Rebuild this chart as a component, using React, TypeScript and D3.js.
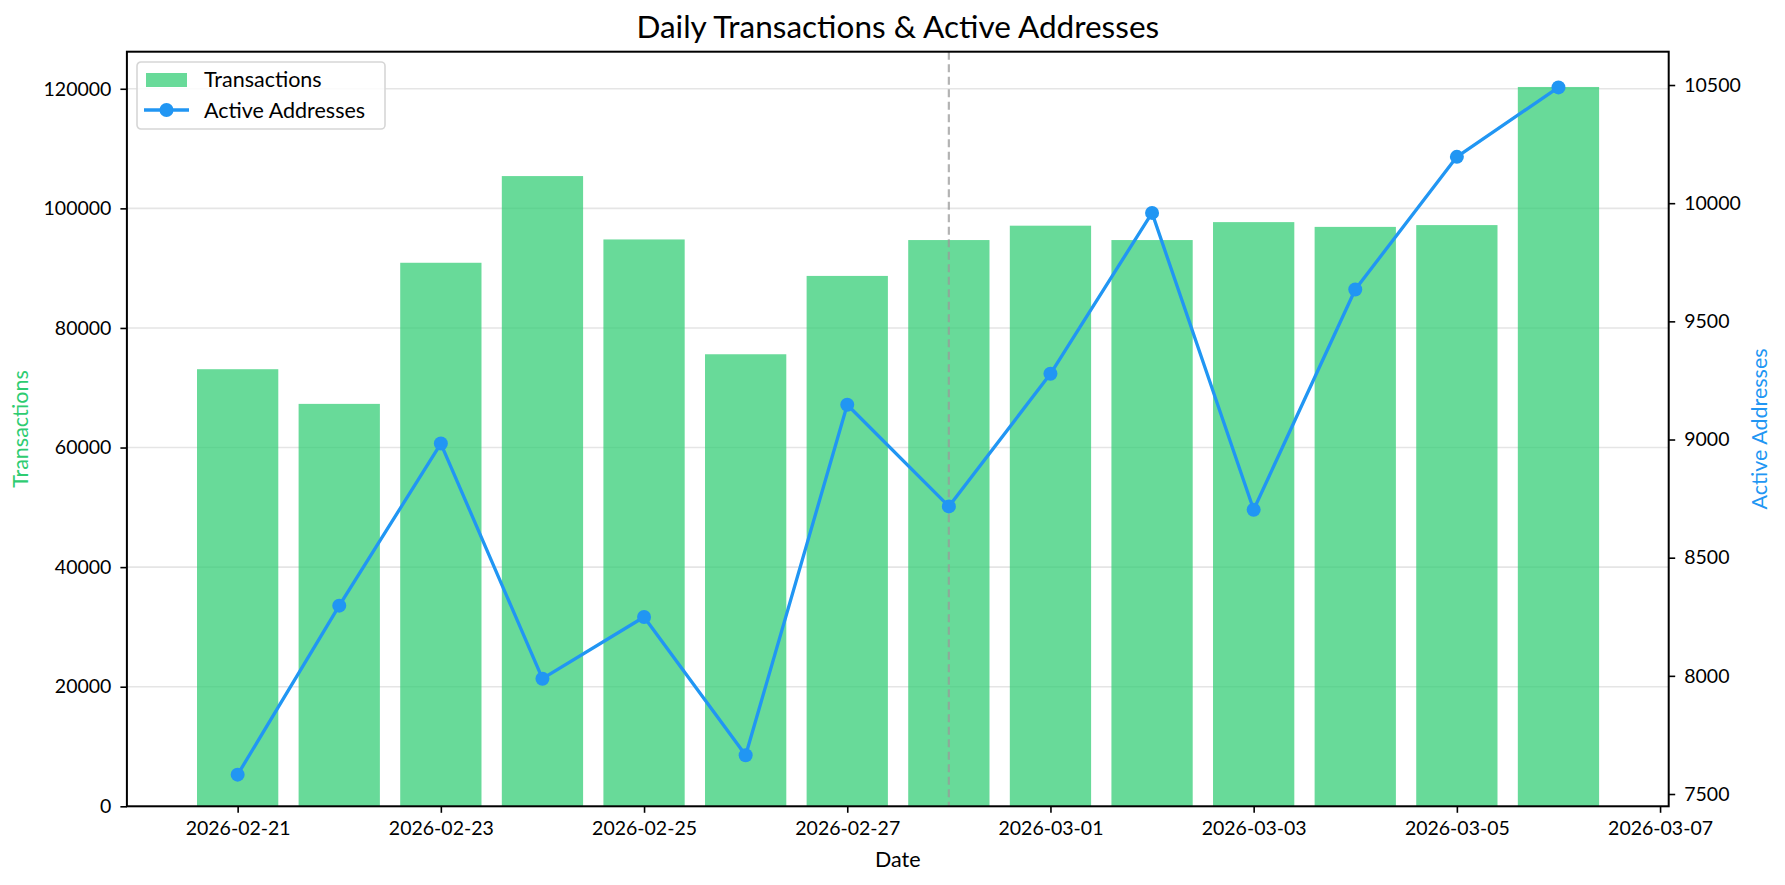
import React, { useEffect, useRef } from "react";
import * as d3 from "d3";

// Daily data
const dates = [
  "2026-02-21", "2026-02-22", "2026-02-23", "2026-02-24", "2026-02-25", "2026-02-26", "2026-02-27",
  "2026-02-28", "2026-03-01", "2026-03-02", "2026-03-03", "2026-03-04", "2026-03-05", "2026-03-06",
];
const transactions = [73100, 67300, 90900, 105400, 94800, 75600, 88700, 94700, 97100, 94700, 97700, 96900, 97200, 120300];
const activeAddresses = [7582, 8297, 8983, 7988, 8249, 7664, 9147, 8717, 9278, 9959, 8703, 9635, 10196, 10490];

// Axis ticks
const xTickDates = ["2026-02-21", "2026-02-23", "2026-02-25", "2026-02-27", "2026-03-01", "2026-03-03", "2026-03-05", "2026-03-07"];
const leftTicks = [0, 20000, 40000, 60000, 80000, 100000, 120000];
const rightTicks = [7500, 8000, 8500, 9000, 9500, 10000, 10500];
const markerDate = "2026-02-28";

const WIDTH = 1785;
const HEIGHT = 885;
const FONT = "Lato, 'Noto Sans', sans-serif";
const GREEN = "#2ecc71";
const BLUE = "#2196f3";

const parse = d3.utcParse("%Y-%m-%d");
const DAY = 864e5;

const App: React.FC = () => {
  const ref = useRef<SVGSVGElement | null>(null);

  useEffect(() => {
    if (!ref.current) return;
    const svg = d3.select(ref.current);
    svg.selectAll("*").remove();

    const left = 126.9, right = 1668.7, top = 51.7, bottom = 806.3;

    const first = parse(dates[0])!.getTime();
    const last = parse(xTickDates[xTickDates.length - 1])!.getTime();
    const x = d3.scaleUtc()
      .domain([new Date(first - 1.09 * DAY), new Date(last + 0.085 * DAY)])
      .range([left, right]);
    const yL = d3.scaleLinear().domain([0, 126200]).range([bottom, top]);
    const yR = d3.scaleLinear().domain([7448, 10641]).range([bottom, top]);

    const barW = x(new Date(first + 0.8 * DAY)) - x(new Date(first));

    svg.attr("width", WIDTH).attr("height", HEIGHT).style("font-family", FONT);
    svg.append("rect").attr("width", WIDTH).attr("height", HEIGHT).attr("fill", "white");

    // grid (left axis)
    svg.append("g")
      .selectAll("line")
      .data(leftTicks)
      .join("line")
      .attr("x1", left).attr("x2", right)
      .attr("y1", (d) => yL(d)).attr("y2", (d) => yL(d))
      .attr("stroke", "#e5e5e5").attr("stroke-width", 1.6);

    // bars
    svg.append("g")
      .selectAll("rect")
      .data(dates)
      .join("rect")
      .attr("x", (d) => x(parse(d)!) - barW / 2)
      .attr("width", barW)
      .attr("y", (_, i) => yL(transactions[i]))
      .attr("height", (_, i) => yL(0) - yL(transactions[i]))
      .attr("fill", GREEN)
      .attr("fill-opacity", 0.72);

    // dashed marker
    const mx = x(parse(markerDate)!);
    svg.append("line")
      .attr("x1", mx).attr("x2", mx).attr("y1", top).attr("y2", bottom)
      .attr("stroke", "#999").attr("stroke-opacity", 0.75)
      .attr("stroke-width", 2.2).attr("stroke-dasharray", "8,4.5");

    // line
    const line = d3.line<string>()
      .x((d) => x(parse(d)!))
      .y((_, i) => yR(activeAddresses[i]));
    svg.append("path")
      .datum(dates)
      .attr("fill", "none")
      .attr("stroke", BLUE)
      .attr("stroke-width", 3.3)
      .attr("stroke-linejoin", "round")
      .attr("d", line);
    svg.append("g")
      .selectAll("circle")
      .data(dates)
      .join("circle")
      .attr("cx", (d) => x(parse(d)!))
      .attr("cy", (_, i) => yR(activeAddresses[i]))
      .attr("r", 7)
      .attr("fill", BLUE);

    // axes
    const styleAxis = (g: d3.Selection<SVGGElement, unknown, null, undefined>) => {
      g.select(".domain").remove();
      g.selectAll(".tick line").attr("stroke", "#000").attr("stroke-width", 1.6);
      g.selectAll(".tick text").attr("font-size", 19.5).attr("font-family", FONT).attr("fill", "#000");
    };

    svg.append("g")
      .attr("transform", `translate(0,${bottom})`)
      .call(d3.axisBottom(x).tickValues(xTickDates.map((d) => parse(d)!)).tickFormat(d3.utcFormat("%Y-%m-%d")).tickSize(6.5).tickPadding(8))
      .call(styleAxis);

    svg.append("g")
      .attr("transform", `translate(${left},0)`)
      .call(d3.axisLeft(yL).tickValues(leftTicks).tickFormat(d3.format("d")).tickSize(6.5).tickPadding(9))
      .call(styleAxis);

    svg.append("g")
      .attr("transform", `translate(${right},0)`)
      .call(d3.axisRight(yR).tickValues(rightTicks).tickFormat(d3.format("d")).tickSize(6.5).tickPadding(9))
      .call(styleAxis);

    // frame
    svg.append("rect")
      .attr("x", left).attr("y", top)
      .attr("width", right - left).attr("height", bottom - top)
      .attr("fill", "none").attr("stroke", "#000").attr("stroke-width", 2);

    // title and labels
    svg.append("text")
      .attr("x", (left + right) / 2).attr("y", 38)
      .attr("text-anchor", "middle").attr("font-size", 31.5)
      .text("Daily Transactions & Active Addresses");
    svg.append("text")
      .attr("x", (left + right) / 2).attr("y", 867)
      .attr("text-anchor", "middle").attr("font-size", 21.5)
      .text("Date");
    svg.append("text")
      .attr("transform", `translate(28,${(top + bottom) / 2}) rotate(-90)`)
      .attr("text-anchor", "middle").attr("font-size", 21.5).attr("fill", GREEN)
      .text("Transactions");
    svg.append("text")
      .attr("transform", `translate(1767,${(top + bottom) / 2}) rotate(-90)`)
      .attr("text-anchor", "middle").attr("font-size", 21.5).attr("fill", BLUE)
      .text("Active Addresses");

    // legend
    const lg = svg.append("g").attr("transform", "translate(137,62)");
    lg.append("rect")
      .attr("width", 248).attr("height", 67).attr("rx", 4)
      .attr("fill", "white").attr("fill-opacity", 0.85)
      .attr("stroke", "#d6d6d6").attr("stroke-width", 1.6);
    lg.append("rect")
      .attr("x", 9).attr("y", 11).attr("width", 41).attr("height", 14)
      .attr("fill", GREEN).attr("fill-opacity", 0.72);
    lg.append("text").attr("x", 67).attr("y", 24.5).attr("font-size", 21.5).text("Transactions");
    lg.append("line")
      .attr("x1", 7).attr("x2", 52).attr("y1", 48).attr("y2", 48)
      .attr("stroke", BLUE).attr("stroke-width", 3.3);
    lg.append("circle").attr("cx", 29.5).attr("cy", 48).attr("r", 7).attr("fill", BLUE);
    lg.append("text").attr("x", 67).attr("y", 55.5).attr("font-size", 21.5).text("Active Addresses");
  }, []);

  return (
    <div style={{ position: "absolute", left: 0, top: 0 }}>
      <svg ref={ref}></svg>
    </div>
  );
};

export default App;
